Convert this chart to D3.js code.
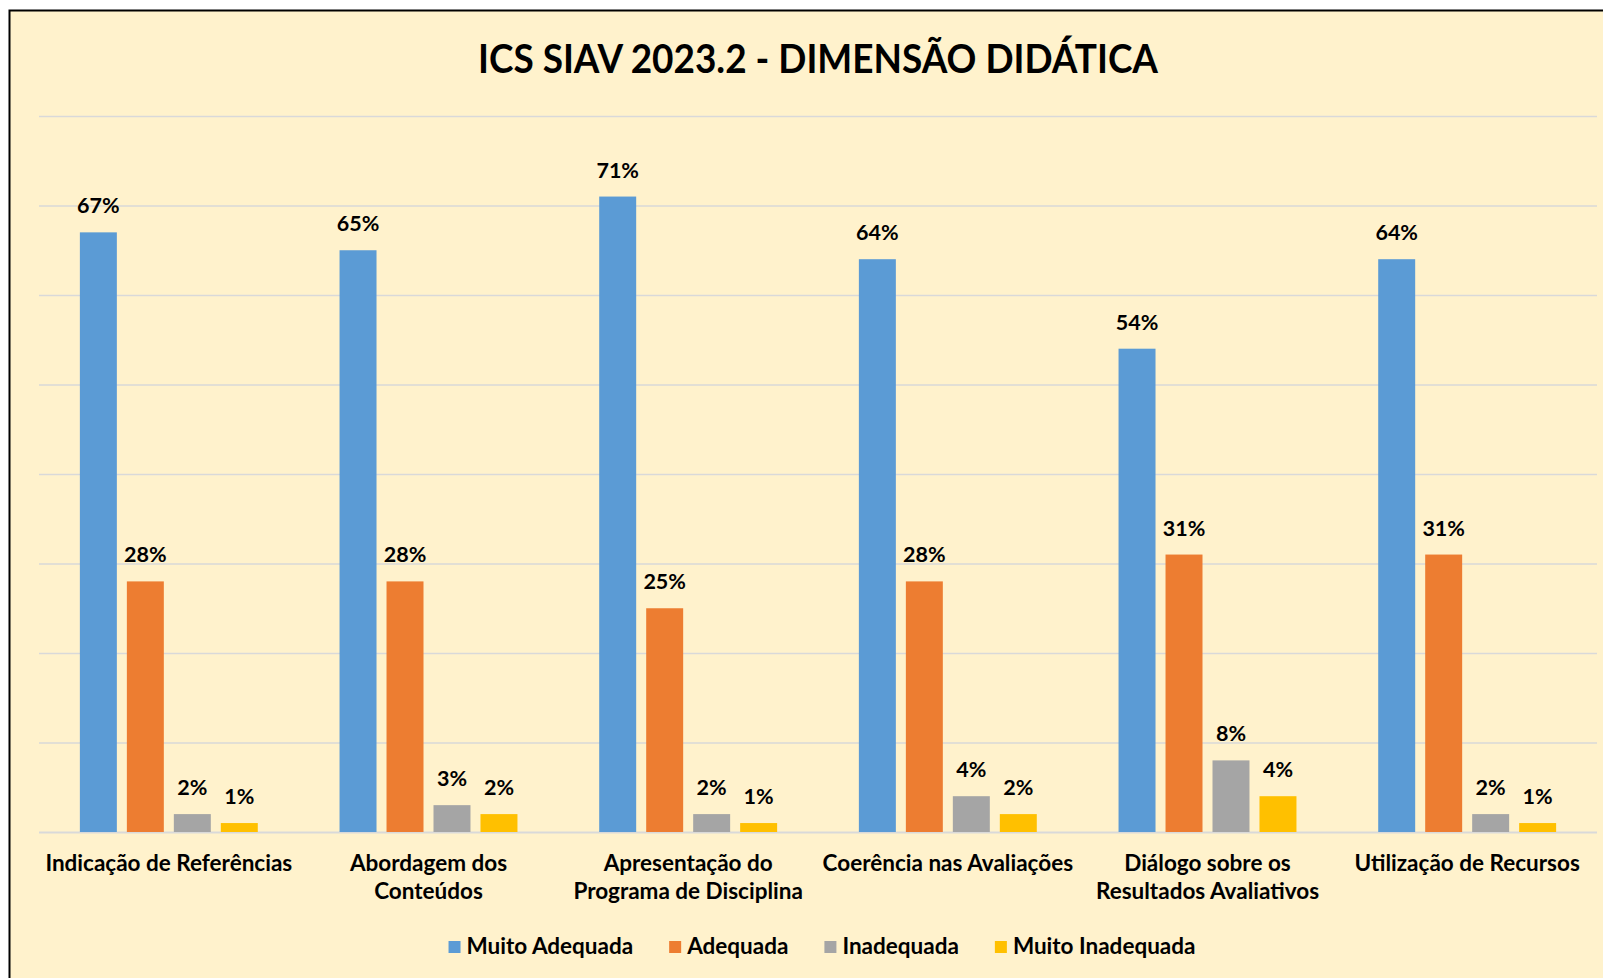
<!DOCTYPE html>
<html>
<head>
<meta charset="utf-8">
<script src="https://cdn.jsdelivr.net/npm/d3@7"></script>
<style>
  body { margin: 0; background: #ffffff; }
  text { font-family: Lato, "Open Sans", sans-serif; font-weight: bold; fill: #000; }
</style>
</head>
<body>
<svg id="chart" width="1603" height="978"></svg>
<script>
// categories (\n = line break as in the original chart)
let categories = [
  'Indicação de Referências',
  'Abordagem dos\nConteúdos',
  'Apresentação do\nPrograma de Disciplina',
  'Coerência nas Avaliações',
  'Diálogo sobre os\nResultados Avaliativos',
  'Utilização de Recursos'
]
let seriesNames = ['Muito Adequada', 'Adequada', 'Inadequada', 'Muito Inadequada']
let muitoAdequada   = [67, 65, 71, 64, 54, 64]
let adequada        = [28, 28, 25, 28, 31, 31]
let inadequada      = [2, 3, 2, 4, 8, 2]
let muitoInadequada = [1, 2, 1, 2, 4, 1]
let yTicks = [0, 10, 20, 30, 40, 50, 60, 70, 80]
let title = 'ICS SIAV 2023.2 - DIMENSÃO DIDÁTICA'

let seriesValues = [muitoAdequada, adequada, inadequada, muitoInadequada]
let colors = ['#5B9BD5', '#ED7D31', '#A5A5A5', '#FFC000']

let pad_left = 39
let pad_right = 6
let plot_top = 116
let plot_bottom = 832
let W = 1603

let svg = d3.select('#chart')

// chart area (clipped at the right and bottom like the original picture)
svg.append('rect').attr('x', 9.5).attr('y', 10.5).attr('width', W + 10).attr('height', 1000)
   .attr('fill', '#FFF2CC').attr('stroke', '#000').attr('stroke-width', 2)

let xScale = d3.scaleBand().domain(categories).range([pad_left, W - pad_right])
let xSub = d3.scaleBand().domain(seriesNames).range([0, xScale.bandwidth()])
             .paddingInner(0.213).paddingOuter(0.87)
let yScale = d3.scaleLinear().domain([0, 80]).range([plot_bottom, plot_top])

// gridlines
let yAxis = d3.axisLeft(yScale).tickValues(yTicks).tickSize(-(W - pad_right - pad_left)).tickFormat('')
let grid = svg.append('g').attr('transform', 'translate(' + pad_left + ',0)').call(yAxis)
grid.select('.domain').remove()
grid.selectAll('line').attr('stroke', '#D9D9D9').attr('stroke-width', d => d === 0 ? 2 : 1.5)

// bars
let rows = []
categories.forEach((cat, i) => {
  seriesNames.forEach((s, j) => {
    rows.push({cat: cat, series: s, value: seriesValues[j][i], color: colors[j]})
  })
})

svg.append('g').selectAll('rect').data(rows).join('rect')
   .attr('x', d => xScale(d.cat) + xSub(d.series))
   .attr('y', d => yScale(d.value))
   .attr('width', xSub.bandwidth())
   .attr('height', d => yScale(0) - yScale(d.value))
   .attr('fill', d => d.color)

// value labels
svg.append('g').selectAll('text').data(rows).join('text')
   .text(d => d.value + '%')
   .attr('x', d => xScale(d.cat) + xSub(d.series) + xSub.bandwidth() / 2)
   .attr('y', d => yScale(d.value) - 19)
   .attr('text-anchor', 'middle')
   .style('font-size', '21.5px')

// category labels
let catG = svg.append('g').selectAll('text').data(categories).join('text')
   .attr('x', d => xScale(d) + xScale.bandwidth() / 2)
   .attr('y', 871)
   .attr('text-anchor', 'middle')
   .style('font-size', '22.5px')
catG.selectAll('tspan').data(d => d.split('\n')).join('tspan')
   .attr('x', function(){ return this.parentNode.getAttribute('x') })
   .attr('dy', (d, i) => i === 0 ? 0 : 28)
   .text(d => d)

// title
svg.append('text').text(title)
   .attr('x', (pad_left + W - pad_right) / 2).attr('y', 73)
   .attr('text-anchor', 'middle')
   .attr('textLength', 680).attr('lengthAdjust', 'spacingAndGlyphs')
   .style('font-size', '40px')

// legend
let legend = svg.append('g')
let lx = 0
seriesNames.forEach((s, j) => {
  let item = legend.append('g').attr('transform', 'translate(' + lx + ',0)')
  item.append('rect').attr('x', 0).attr('y', 941).attr('width', 12).attr('height', 12).attr('fill', colors[j])
  let t = item.append('text').text(s).attr('x', 18).attr('y', 954).style('font-size', '22.5px')
  lx += 18 + t.node().getComputedTextLength() + 36
})
lx -= 36
legend.attr('transform', 'translate(' + (822 - lx / 2) + ',0)')
</script>
</body>
</html>
